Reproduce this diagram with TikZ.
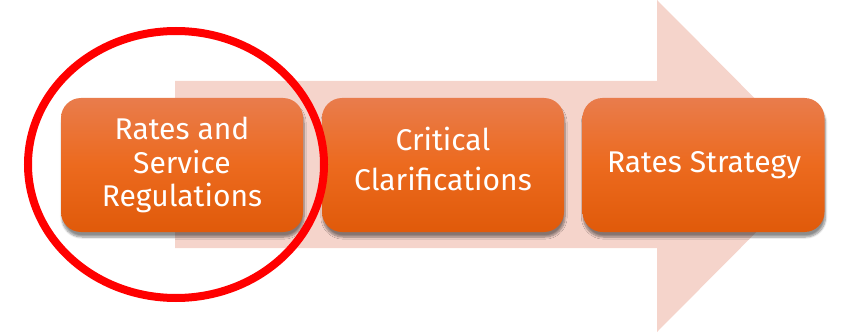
\documentclass[tikz,border=0pt]{standalone}
\usepackage{fontspec}
\setmainfont{Fira Sans}
\usetikzlibrary{shadows.blur}
\definecolor{arrowpink}{HTML}{F5D4CB}
\definecolor{boxtop}{HTML}{E97C4C}
\definecolor{boxmid}{HTML}{EC6A1E}
\definecolor{boxbot}{HTML}{E05A0A}
\definecolor{ringred}{HTML}{FF0000}
\tikzset{
  stagebox/.style={rounded corners=20pt, minimum width=242pt, minimum height=134pt,
    inner sep=0pt, top color=boxtop, bottom color=boxbot, middle color=boxmid,
    blur shadow={shadow xshift=1pt, shadow yshift=-5pt, shadow blur steps=8, shadow blur extra rounding=2pt, shadow opacity=45}},
  stagetext/.style={text=white, align=center, inner sep=0pt},
  ring/.style={draw=ringred, line width=8pt}
}
\begin{document}
\begin{tikzpicture}[x=1pt,y=-1pt]
\useasboundingbox (0,0) rectangle (841,334);
\fill[arrowpink] (175,81) -- (657,81) -- (657,0) -- (822,166) -- (657,332) -- (657,248) -- (175,248) -- cycle;
\node[stagebox] (b1) at (182,165) {};
\node[stagebox] (b2) at (443,165) {};
\node[stagebox] (b3) at (703.5,165) {};
\node[stagetext, font=\fontsize{30}{33.5}\selectfont, anchor=base] (t1) at (182,207) {Rates and\\Service\\Regulations};
\node[stagetext, font=\fontsize{30}{40}\selectfont, anchor=base] (t2) at (443,190) {Critical\\Clarifications};
\node[stagetext, font=\fontsize{30}{33.5}\selectfont, anchor=base] (t3) at (704,173) {Rates Strategy};
\draw[ring] (176,164.5) ellipse [x radius=148pt, y radius=133.5pt];
\end{tikzpicture}
\end{document}
